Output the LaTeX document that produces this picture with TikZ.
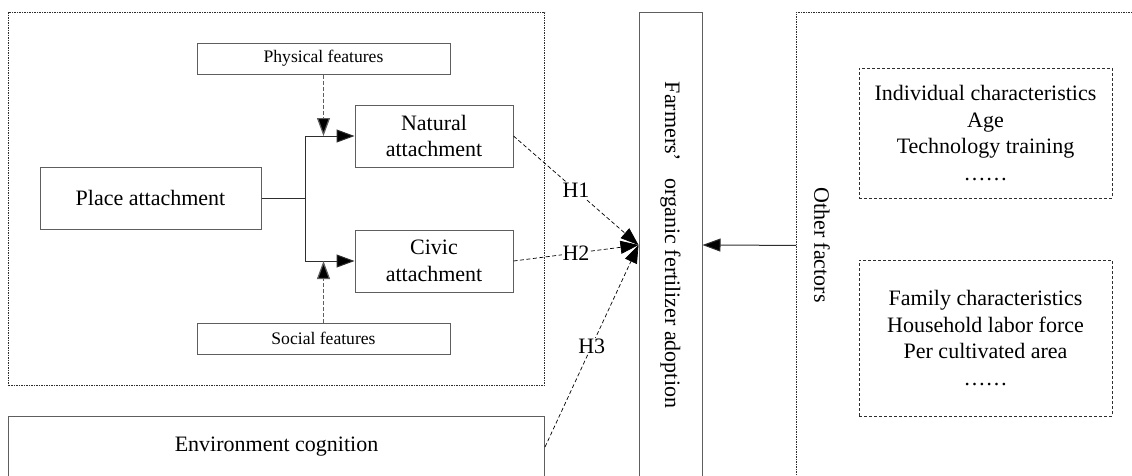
\documentclass[tikz,border=0pt]{standalone}
\usepackage{fontspec}
\setmainfont{Liberation Serif}
\usetikzlibrary{arrows.meta,positioning,calc}
\definecolor{cink}{HTML}{2E2E2E}
\definecolor{cline}{HTML}{5E5E5E}
\begin{document}
\begin{tikzpicture}[
  x=1pt, y=-1pt,
  font=\fontsize{22}{26.6}\selectfont,
  box/.style={draw=cline, line width=1pt, fill=white, align=center, inner sep=0pt},
  featbox/.style={box, font=\fontsize{17.6}{21}\selectfont, minimum width=253pt, minimum height=31pt},
  attbox/.style={box, minimum width=158pt, minimum height=62pt},
  frame/.style={draw=cink, line width=0.8pt, dash pattern=on 1.5pt off 1pt, inner sep=0pt},
  factbox/.style={draw=cink, line width=0.8pt, dash pattern=on 3pt off 2pt, align=center,
                  inner sep=0pt, minimum width=253pt},
  link/.style={cink, line width=1pt},
  arr/.style={-{Triangle[length=18pt, width=13pt, fill=black]}, line width=1pt, cink},
  modarr/.style={arr, cline, line width=1.2pt, dash pattern=on 4pt off 2pt},
  hyp/.style={-{Triangle[length=18pt, width=13pt]}, black, line width=0.7pt, dash pattern=on 4pt off 2.5pt},
  hlab/.style={fill=white, inner sep=1pt},
]
\useasboundingbox (0,0) rectangle (1132,475);
% ---------- left panel: place attachment ----------
\node[frame, minimum width=536pt, minimum height=373pt] (attframe) at (276.5,198.5) {};
\node[featbox] (phys) at (323.5,58.5) {Physical features};
\node[attbox] (natural) at (434,136) {Natural\\attachment};
\node[box, minimum width=221pt, minimum height=62pt] (place) at (150.5,198) {Place attachment};
\node[attbox] (civic) at (434,261) {Civic\\attachment};
\node[featbox] (social) at (323.5,338.5) {Social features};
\coordinate (split) at (305,198);
\draw[link] (place.east) -- (split);
\draw[arr] (split) |- (natural.west);
\draw[arr] (split) |- (civic.west);
\draw[modarr] (phys.south) -- (phys.south |- natural.west);
\draw[modarr] (social.north) -- (social.north |- civic.west);
\node[box, minimum width=536pt, minimum height=61pt] (env) at (276.5,447) {Environment cognition};
% ---------- middle: the outcome ----------
\node[box, rotate=-90, minimum width=466pt, minimum height=63pt] (adopt) at (670.5,245)
  {Farmers’\hspace{0.8em}organic fertilizer adoption};
\foreach \src/\lab in {natural/H1, civic/H2, env/H3}
  \draw[hyp] (\src.east) -- node[hlab] {\lab} (adopt.south);
% ---------- right panel: other factors ----------
\node[frame, minimum width=360pt, minimum height=466pt, anchor=north west] (othframe) at (796,12) {};
\node[rotate=-90] (others) at (822,245) {Other factors};
\node[factbox, minimum height=130pt] (indiv) at (985.5,133)
  {Individual characteristics\\Age\\Technology training\\……};
\node[factbox, minimum height=156pt] (family) at (985.5,338)
  {Family characteristics\\Household labor force\\Per cultivated area\\……};
\draw[arr] (othframe.west) -- (adopt.north);
\end{tikzpicture}
\end{document}
